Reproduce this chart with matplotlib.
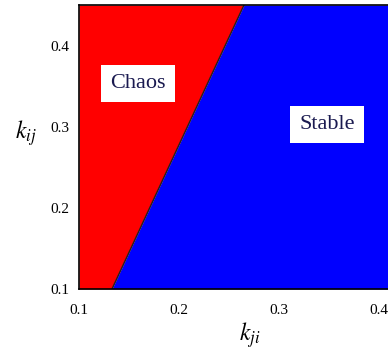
import matplotlib
matplotlib.use("Agg")
import matplotlib.pyplot as plt

# Data
boundary_kij = [0.10, 0.45]      # y values along boundary
boundary_kji = [0.133, 0.265]    # x values of chaos/stable boundary
x_range = [0.10, 0.42]
y_range = [0.10, 0.45]
xticks = [0.1, 0.2, 0.3, 0.4]
yticks = [0.1, 0.2, 0.3, 0.4]
region_labels = ["Chaos", "Stable"]
label_pos = [(0.159, 0.353), (0.348, 0.303)]

plt.rcParams['mathtext.fontset'] = 'stix'

W, H = 388, 357
fig = plt.figure(figsize=(W / 100, H / 100), dpi=100)
left = 79 / W
bottom = (H - 289) / H
height = 284 / H
width = (x_range[1] - x_range[0]) / 0.1 * 100 / W
ax = fig.add_axes([left, bottom, width, height])

ax.fill_betweenx(boundary_kij, x_range[0], boundary_kji, color=(1, 0, 0), lw=0)
ax.fill_betweenx(boundary_kij, boundary_kji, x_range[1], color=(0, 0, 1), lw=0)
ax.plot(boundary_kji, boundary_kij, color='#202020', lw=1.0)

ax.set_xlim(*x_range)
ax.set_ylim(*y_range)
ax.set_xticks(xticks)
ax.set_yticks(yticks)
ax.set_xticklabels([f"{v:.1f}" for v in xticks], family='Liberation Serif', fontsize=11)
ax.set_yticklabels([f"{v:.1f}" for v in yticks], family='Liberation Serif', fontsize=11)
ax.tick_params(axis='x', length=0, pad=11)
ax.tick_params(axis='y', length=0, pad=7)
for s in ax.spines.values():
    s.set_linewidth(1.2)
    s.set_color('black')

for lab, (x, y) in zip(region_labels, label_pos):
    ax.text(x, y, lab, ha='center', va='center', fontsize=16,
            family='Liberation Serif', color='#1a1a50',
            bbox=dict(boxstyle='square,pad=0.4', fc='white', ec='none'))

fig.text(250 / W, 1 - 335 / H, r"$k_{ji}$", fontsize=17, ha='center', va='center')
fig.text(26 / W, 1 - 133 / H, r"$k_{ij}$", fontsize=17, ha='center', va='center')

fig.savefig("out.png", dpi=100)
